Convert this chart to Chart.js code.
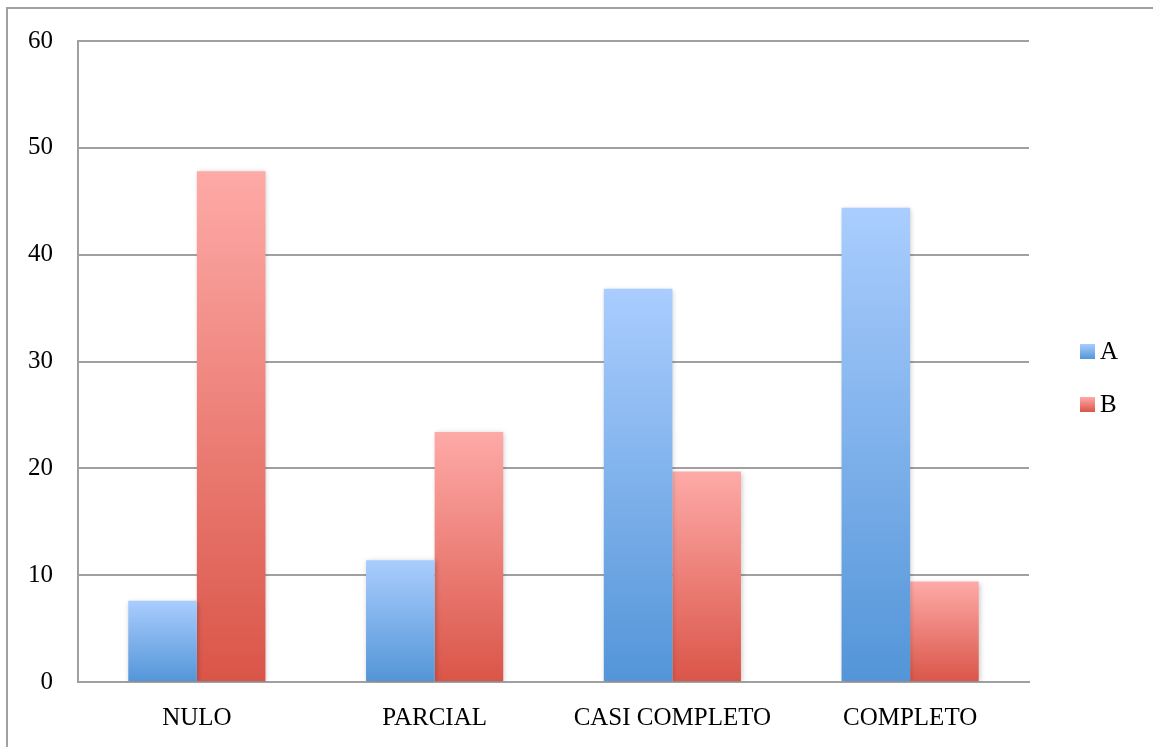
<!DOCTYPE html>
<html>
<head>
<meta charset="utf-8">
<script src="https://cdn.jsdelivr.net/npm/chart.js@4.4.1/dist/chart.umd.min.js"></script>
<style>
  html, body { margin: 0; padding: 0; background: #fff; }
  #wrap { width: 1153px; height: 747px; position: relative; }
</style>
</head>
<body>
<div id="wrap"><canvas id="c"></canvas></div>
<script>
// Categories, series and axis ticks
const categories = ['NULO', 'PARCIAL', 'CASI COMPLETO', 'COMPLETO'];
const seriesNames = ['A', 'B'];
const valuesA = [7.6, 11.4, 36.8, 44.4];
const valuesB = [47.8, 23.4, 19.7, 9.4];
const yTicks = [0, 10, 20, 30, 40, 50, 60];

// Top/bottom colours of each series' vertical gradient
const gradA = ['#aacdfe', '#5395d8'];
const gradB = ['#feaaa7', '#da5548'];

const FONT = "'Liberation Serif', 'Times New Roman', serif";
const FONT_SIZE = 25;

function barGradient(stops) {
  return function (ctx) {
    const chart = ctx.chart;
    const y = chart.scales && chart.scales.y;
    if (!chart.chartArea || !y || ctx.raw === undefined) return stops[1];
    const top = y.getPixelForValue(ctx.raw);
    const base = y.getPixelForValue(0);
    if (!isFinite(top) || !isFinite(base) || top === base) return stops[1];
    const g = chart.ctx.createLinearGradient(0, top, 0, base);
    g.addColorStop(0, stops[0]);
    g.addColorStop(1, stops[1]);
    return g;
  };
}

// Frame line along the left and top edge of the page
const framePlugin = {
  id: 'frame',
  beforeDraw(chart) {
    const c = chart.ctx;
    c.save();
    c.strokeStyle = '#a0a0a0';
    c.lineWidth = 2;
    c.beginPath();
    c.moveTo(7, chart.height);
    c.lineTo(7, 8);
    c.lineTo(chart.width, 8);
    c.stroke();
    c.restore();
  }
};

// Soft shadow behind the bars
const shadowPlugin = {
  id: 'barShadow',
  beforeDatasetsDraw(chart) {
    const c = chart.ctx;
    c.save();
    c.shadowColor = 'rgba(0,0,0,0.22)';
    c.shadowBlur = 5;
    c.shadowOffsetX = 1;
    c.shadowOffsetY = 1;
  },
  afterDatasetsDraw(chart) {
    chart.ctx.restore();
  }
};

// Legend with gradient swatches at the right of the plot
const legendPlugin = {
  id: 'sideLegend',
  afterDraw(chart) {
    const c = chart.ctx;
    const area = chart.chartArea;
    const x = area.right + 51;
    const startY = 344;
    const step = 53;
    const size = 15;
    const stops = [gradA, gradB];
    c.save();
    chart.data.datasets.forEach((ds, i) => {
      const y = startY + i * step;
      const g = c.createLinearGradient(0, y, 0, y + size);
      g.addColorStop(0, stops[i][0]);
      g.addColorStop(1, stops[i][1]);
      c.fillStyle = g;
      c.fillRect(x, y, size, size);
      c.fillStyle = '#000';
      c.font = FONT_SIZE + 'px ' + FONT;
      c.textBaseline = 'middle';
      c.textAlign = 'left';
      c.fillText(ds.label, x + size + 5, y + size / 2 + 1);
    });
    c.restore();
  }
};

new Chart(document.getElementById('c'), {
  type: 'bar',
  data: {
    labels: categories,
    datasets: [
      { label: seriesNames[0], data: valuesA, backgroundColor: barGradient(gradA) },
      { label: seriesNames[1], data: valuesB, backgroundColor: barGradient(gradB) }
    ]
  },
  options: {
    responsive: true,
    maintainAspectRatio: false,
    animation: false,
    devicePixelRatio: 1,
    layout: { padding: { left: 10, top: 41, right: 124, bottom: 0 } },
    datasets: {
      bar: { categoryPercentage: 0.577, barPercentage: 1.0, borderWidth: 0 }
    },
    plugins: {
      legend: { display: false },
      tooltip: { enabled: false }
    },
    scales: {
      x: {
        grid: { display: false, drawTicks: false },
        border: { display: true, color: '#a0a0a0', width: 2 },
        ticks: { color: '#000', font: { family: FONT, size: FONT_SIZE }, padding: 21, maxRotation: 0 },
        afterFit(scale) { scale.height = 65; }
      },
      y: {
        min: 0,
        max: 60,
        afterBuildTicks(scale) { scale.ticks = yTicks.map(v => ({ value: v })); },
        grid: { color: '#a0a0a0', lineWidth: 2, drawTicks: false },
        border: { display: true, color: '#a0a0a0', width: 2 },
        ticks: { color: '#000', font: { family: FONT, size: FONT_SIZE }, padding: 25 },
        afterFit(scale) { scale.width = 68; }
      }
    }
  },
  plugins: [framePlugin, shadowPlugin, legendPlugin]
});
</script>
</body>
</html>
